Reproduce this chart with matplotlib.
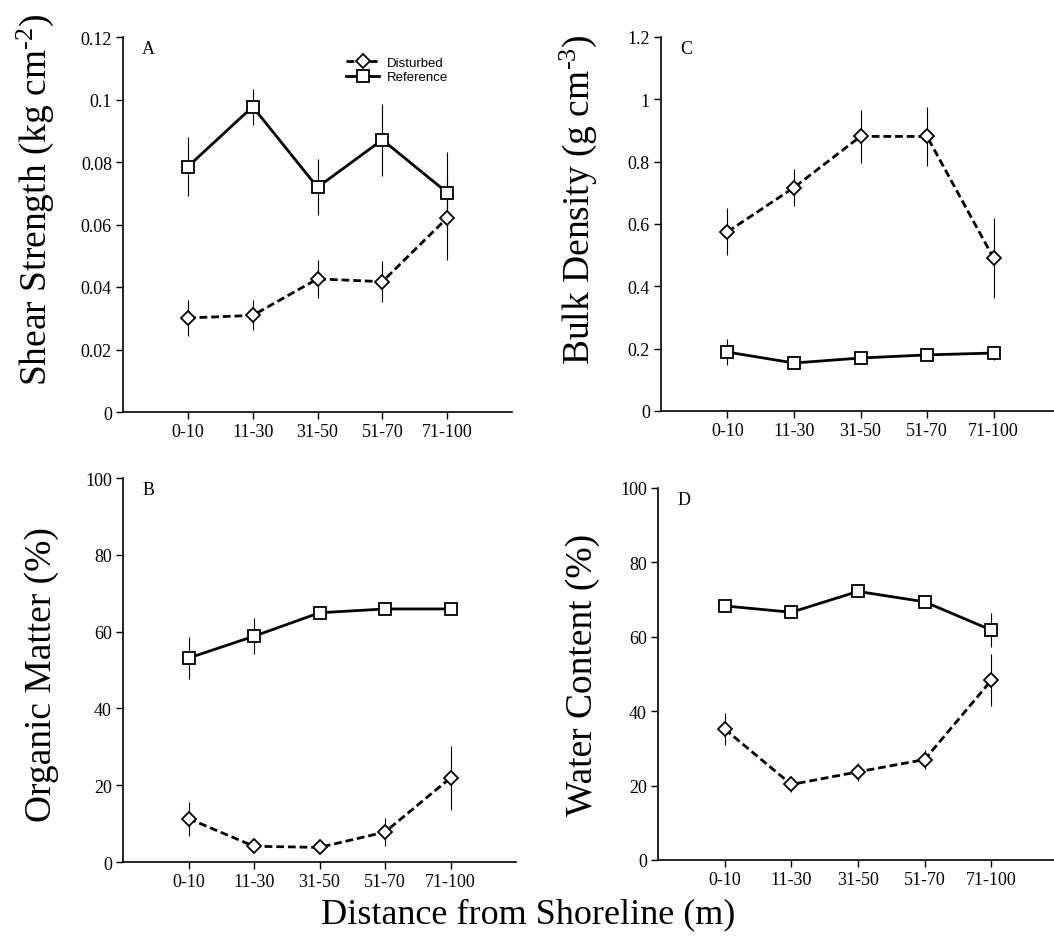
import matplotlib
matplotlib.use('Agg')
import matplotlib.pyplot as plt
import numpy as np

plt.rcParams['font.family'] = ['Liberation Serif', 'DejaVu Serif']
plt.rcParams['mathtext.fontset'] = 'custom'
plt.rcParams['mathtext.rm'] = 'Liberation Serif'
plt.rcParams['mathtext.it'] = 'Liberation Serif:italic'
plt.rcParams['mathtext.bf'] = 'Liberation Serif:bold'

cats = ['0-10', '11-30', '31-50', '51-70', '71-100']

# A: shear strength (kg cm-2)
shear_ref = [0.0785, 0.0977, 0.0719, 0.0871, 0.0702]
shear_ref_err = [0.0095, 0.0058, 0.009, 0.0115, 0.013]
shear_dist = [0.0301, 0.0309, 0.0426, 0.0417, 0.0621]
shear_dist_err = [0.0058, 0.0048, 0.006, 0.0066, 0.0133]

# C: bulk density (g cm-3)
bulk_ref = [0.189, 0.154, 0.170, 0.180, 0.186]
bulk_ref_err = [0.043, 0.01, 0.01, 0.01, 0.022]
bulk_dist = [0.575, 0.717, 0.881, 0.881, 0.491]
bulk_dist_err = [0.075, 0.058, 0.085, 0.096, 0.129]

# B: organic matter (%)
om_ref = [53.1, 58.8, 64.9, 65.9, 65.9]
om_ref_err = [5.5, 4.7, 0.8, 0.6, 0.6]
om_dist = [11.3, 4.1, 3.8, 7.8, 21.9]
om_dist_err = [4.4, 1.5, 1.2, 3.6, 8.3]

# D: water content (%)
wc_ref = [68.3, 66.6, 72.2, 69.4, 61.8]
wc_ref_err = [1.5, 1.0, 0.6, 0.6, 4.6]
wc_dist = [35.2, 20.3, 23.7, 27.0, 48.3]
wc_dist_err = [4.4, 2.0, 2.5, 2.5, 7.0]

W, H = 1054, 945
fig = plt.figure(figsize=(W / 100, H / 100), dpi=100)

def px_axes(left, right, top, bottom):
    return fig.add_axes([left / W, 1 - bottom / H, (right - left) / W, (bottom - top) / H])

x = np.arange(1, 6)
dash = (0, (2.8, 1.4))

def panel(ax, ref, ref_err, dist, dist_err, ylim, yticks, yticklabels, letter):
    ax.errorbar(x, ref, yerr=ref_err, fmt='none', ecolor='k', elinewidth=0.8, zorder=1)
    ax.errorbar(x, dist, yerr=dist_err, fmt='none', ecolor='k', elinewidth=0.8, zorder=1)
    ax.plot(x, dist, color='k', lw=2.0, ls=dash, marker='D', ms=7, mfc='white',
            mec='k', mew=1.3, zorder=3, label='Disturbed')
    ax.plot(x, ref, color='k', lw=2.0, ls='-', marker='s', ms=8, mfc='white',
            mec='k', mew=1.3, zorder=3, label='Reference')
    ax.set_xlim(0, 6)
    ax.set_ylim(*ylim)
    ax.set_xticks(x)
    ax.set_xticklabels(cats)
    ax.set_yticks(yticks)
    ax.set_yticklabels(yticklabels)
    for s in ['top', 'right']:
        ax.spines[s].set_visible(False)
    for s in ['left', 'bottom']:
        ax.spines[s].set_linewidth(1.2)
    ax.tick_params(direction='out', length=5, width=1.0, labelsize=13, pad=3)
    ax.text(0.064, 0.97, letter, transform=ax.transAxes, ha='center', va='center', fontsize=13)

axA = px_axes(123, 512, 38, 413)
panel(axA, shear_ref, shear_ref_err, shear_dist, shear_dist_err, (0, 0.12),
      [0, 0.02, 0.04, 0.06, 0.08, 0.1, 0.12],
      ['0', '0.02', '0.04', '0.06', '0.08', '0.1', '0.12'], 'A')
leg = axA.legend(loc='upper left', bbox_to_anchor=(0.55, 0.972), frameon=False,
                 prop={'family': 'Liberation Sans', 'size': 9.5}, handlelength=2.5,
                 handletextpad=0.6, labelspacing=0.15, borderpad=0.2)

axC = px_axes(661, 661 + 399, 38, 412)
panel(axC, bulk_ref, bulk_ref_err, bulk_dist, bulk_dist_err, (0, 1.2),
      [0, 0.2, 0.4, 0.6, 0.8, 1.0, 1.2],
      ['0', '0.2', '0.4', '0.6', '0.8', '1', '1.2'], 'C')

axB = px_axes(123, 516, 479, 863)
panel(axB, om_ref, om_ref_err, om_dist, om_dist_err, (0, 100),
      [0, 20, 40, 60, 80, 100], ['0', '20', '40', '60', '80', '100'], 'B')

axD = px_axes(658, 658 + 400, 489, 861)
panel(axD, wc_ref, wc_ref_err, wc_dist, wc_dist_err, (0, 100),
      [0, 20, 40, 60, 80, 100], ['0', '20', '40', '60', '80', '100'], 'D')

fig.text(35 / W, 1 - 200 / H, r'Shear Strength (kg cm$^{\text{-2}}$)', rotation=90,
         ha='center', va='center', fontsize=27)
fig.text(578 / W, 1 - 200 / H, r'Bulk Density (g cm$^{\text{-3}}$)', rotation=90,
         ha='center', va='center', fontsize=27)
fig.text(42 / W, 1 - 675 / H, 'Organic Matter (%)', rotation=90,
         ha='center', va='center', fontsize=27)
fig.text(583 / W, 1 - 675 / H, 'Water Content (%)', rotation=90,
         ha='center', va='center', fontsize=27)
fig.text(528 / W, 1 - 915 / H, 'Distance from Shoreline (m)', ha='center',
         va='center', fontsize=26)

fig.savefig('out.png', dpi=100)
